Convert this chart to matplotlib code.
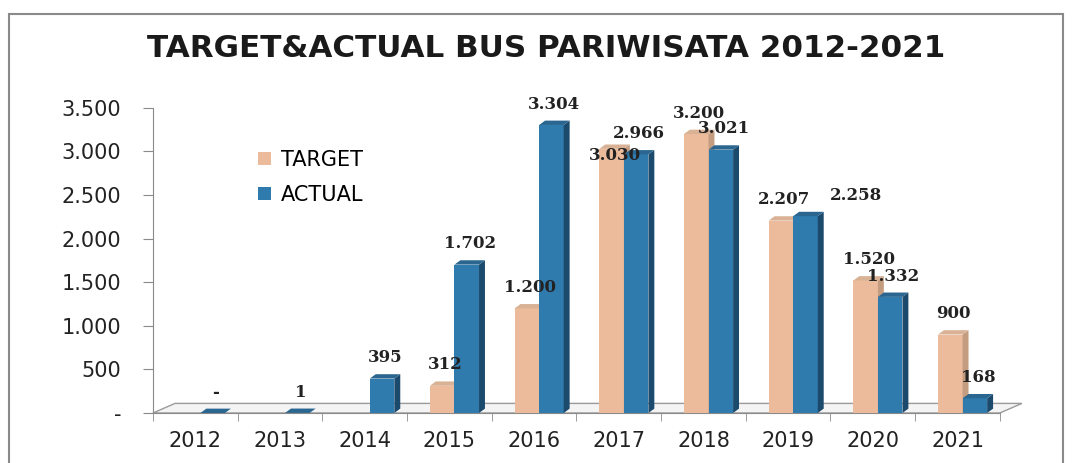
import matplotlib
matplotlib.use("Agg")
import matplotlib.pyplot as plt
from matplotlib.patches import Polygon, Patch, Rectangle
from matplotlib.ticker import FixedLocator, FuncFormatter
import numpy as np

years = ["2012", "2013", "2014", "2015", "2016", "2017", "2018", "2019", "2020", "2021"]
target = [None, None, None, 312, 1200, 3030, 3200, 2207, 1520, 900]
actual = [0, 1, 395, 1702, 3304, 2966, 3021, 2258, 1332, 168]
title = "TARGET&ACTUAL BUS PARIWISATA 2012-2021"
yticks = [0, 500, 1000, 1500, 2000, 2500, 3000, 3500]

# style
c_t_front, c_t_side, c_t_top = "#EBBB9C", "#C49C7F", "#D9B296"
c_a_front, c_a_side, c_a_top = "#2F7BAE", "#1B4A6C", "#2A6690"
# special label offsets (points) for a few labels, matching the reference
label_offsets = {("t", 5): (0, -20), ("a", 7): (34, 0)}

fig = plt.figure(figsize=(10.72, 4.63), dpi=100)
ax = fig.add_axes([0.1427, 0.108, 0.790, 0.659])
ax.set_xlim(-0.5, 9.5)
ax.set_ylim(0, 3500)

# figure border
fig.patches.append(Rectangle((0.008, -0.02), 0.984, 0.99, transform=fig.transFigure,
                             fill=False, edgecolor="#8a8a8a", linewidth=1.5))

w = 0.29
shift = 0.06
ddx = 0.07
ddy = 50

# floor
fdx, fdy = 0.26, 110
floor = Polygon([(-0.5, 0), (9.5, 0), (9.5 + fdx, fdy), (-0.5 + fdx, fdy)],
                closed=True, facecolor="#f4f4f4", edgecolor="#9a9a9a", linewidth=1.0,
                clip_on=False, zorder=1)
ax.add_patch(floor)


def bar3d(x, h, front, side, top):
    ax.bar(x, h, width=w, color=front, zorder=3, linewidth=0)
    l, r = x - w / 2, x + w / 2
    ax.add_patch(Polygon([(r, 0), (r + ddx, ddy), (r + ddx, h + ddy), (r, h)],
                         closed=True, facecolor=side, edgecolor="none", zorder=3, clip_on=False))
    ax.add_patch(Polygon([(l, h), (r, h), (r + ddx, h + ddy), (l + ddx, h + ddy)],
                         closed=True, facecolor=top, edgecolor="none", zorder=3, clip_on=False))


def fmt(v):
    if v == 0:
        return "-"
    return f"{v:,}".replace(",", ".")


for i in range(len(years)):
    xt = i - w / 2 + shift
    xa = i + w / 2 + shift
    if target[i] is not None:
        bar3d(xt, target[i], c_t_front, c_t_side, c_t_top)
    bar3d(xa, actual[i], c_a_front, c_a_side, c_a_top)

for i in range(len(years)):
    xt = i - w / 2 + shift
    xa = i + w / 2 + shift
    if target[i] is not None:
        ox, oy = label_offsets.get(("t", i), (0, 0))
        ax.annotate(fmt(target[i]), (xt + ddx / 2, target[i]), xytext=(ox, 15 + oy),
                    textcoords="offset points", ha="center", va="center",
                    fontsize=12, fontweight="bold", family="DejaVu Serif",
                    color="#222222", zorder=5, annotation_clip=False)
    ox, oy = label_offsets.get(("a", i), (0, 0))
    ax.annotate(fmt(actual[i]), (xa + ddx / 2, actual[i]), xytext=(ox, 15 + oy),
                textcoords="offset points", ha="center", va="center",
                fontsize=12, fontweight="bold", family="DejaVu Serif",
                color="#222222", zorder=5, annotation_clip=False)

# axes styling
for s in ["top", "right"]:
    ax.spines[s].set_visible(False)
ax.spines["left"].set_color("#8a8a8a")
ax.spines["bottom"].set_color("#8a8a8a")
ax.spines["bottom"].set_bounds(-0.5, 9.5)

ax.yaxis.set_major_locator(FixedLocator(yticks))
ax.yaxis.set_major_formatter(FuncFormatter(lambda v, p: fmt(int(v))))
ax.tick_params(axis="y", length=7, color="#8a8a8a", pad=16, labelsize=15, labelcolor="#222222")

ax.set_xticks(range(len(years)))
ax.set_xticklabels(years)
ax.set_xticks(np.arange(-0.5, 10, 1), minor=True)
ax.tick_params(axis="x", which="major", length=0, pad=13, labelsize=15, labelcolor="#222222")
ax.tick_params(axis="x", which="minor", length=6, color="#8a8a8a", direction="out")

handles = [Patch(facecolor=c_t_front, label="TARGET"), Patch(facecolor=c_a_front, label="ACTUAL")]
ax.legend(handles=handles, loc="upper left", bbox_to_anchor=(0.102, 0.925), frameon=False,
          fontsize=15, handlelength=0.6, handleheight=0.6, handletextpad=0.5, labelspacing=0.75)

fig.text(0.509, 0.895, title, ha="center", va="center", fontsize=22.3, fontweight="bold",
         family="DejaVu Sans", color="#1a1a1a")

fig.savefig("out.png", dpi=100)
